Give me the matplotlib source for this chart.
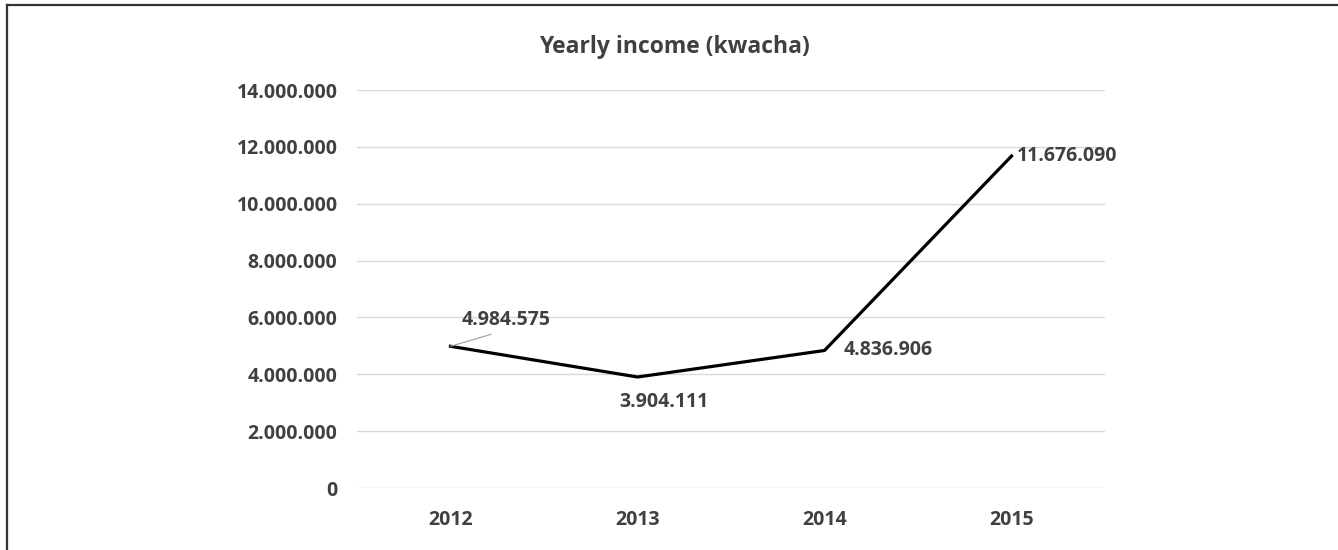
import matplotlib.pyplot as plt
from matplotlib.lines import Line2D
from matplotlib.ticker import FuncFormatter

years = ['2012', '2013', '2014', '2015']
income = [4984575, 3904111, 4836906, 11676090]
yticks = [0, 2000000, 4000000, 6000000, 8000000, 10000000, 12000000, 14000000]

TXT = '#404040'
FS = 14
plt.rcParams['font.family'] = ['Open Sans', 'DejaVu Sans']
plt.rcParams['font.weight'] = 'bold'


def dots(v, pos=None):
    # thousands separated with dots
    return f'{int(v):,}'.replace(',', '.')


fig = plt.figure(figsize=(13.38, 5.5), dpi=100)
ax = fig.add_axes([357 / 1338, 1 - 488 / 550, 748 / 1338, 398 / 550])

x = list(range(len(years)))
ax.plot(x, income, color='black', lw=2.3, solid_joinstyle='round', zorder=3)

ax.set_xlim(-0.5, len(years) - 0.5)
ax.set_ylim(0, 14000000)
ax.set_yticks(yticks)
ax.yaxis.set_major_formatter(FuncFormatter(dots))
ax.set_xticks(x)
ax.set_xticklabels(years)
ax.grid(axis='y', color='#d9d9d9', lw=1)
ax.set_axisbelow(True)
for s in ax.spines.values():
    s.set_visible(False)
ax.tick_params(axis='y', length=0, pad=14, labelsize=FS, labelcolor=TXT)
ax.tick_params(axis='x', length=0, pad=16, labelsize=FS, labelcolor=TXT)

# data labels
offsets = [(40, 19), (19, -18), (14, 0), (4, 0)]
aligns = ['center', 'center', 'left', 'left']
for i, v in enumerate(income):
    props = None
    if i == 0:
        props = dict(arrowstyle='-', color='#a0a0a0', lw=0.8,
                     relpos=(0.5, 0.0), shrinkA=4, shrinkB=0)
    ax.annotate(dots(v), (x[i], v), xytext=offsets[i], textcoords='offset points',
                ha=aligns[i], va='center', fontsize=FS, color=TXT,
                fontweight='bold', arrowprops=props)

fig.text(674 / 1338, 1 - 47 / 550, 'Yearly income (kwacha)', ha='center', va='center',
         fontsize=16.5, color=TXT, fontweight='bold')

# frame lines along the top and left edges
fig.add_artist(Line2D([7 / 1338, 1], [1 - 5 / 550, 1 - 5 / 550], color='#333333', lw=1.6))
fig.add_artist(Line2D([7 / 1338, 7 / 1338], [0, 1 - 5 / 550], color='#333333', lw=1.6))

fig.savefig('out.png', dpi=100, facecolor='white')
